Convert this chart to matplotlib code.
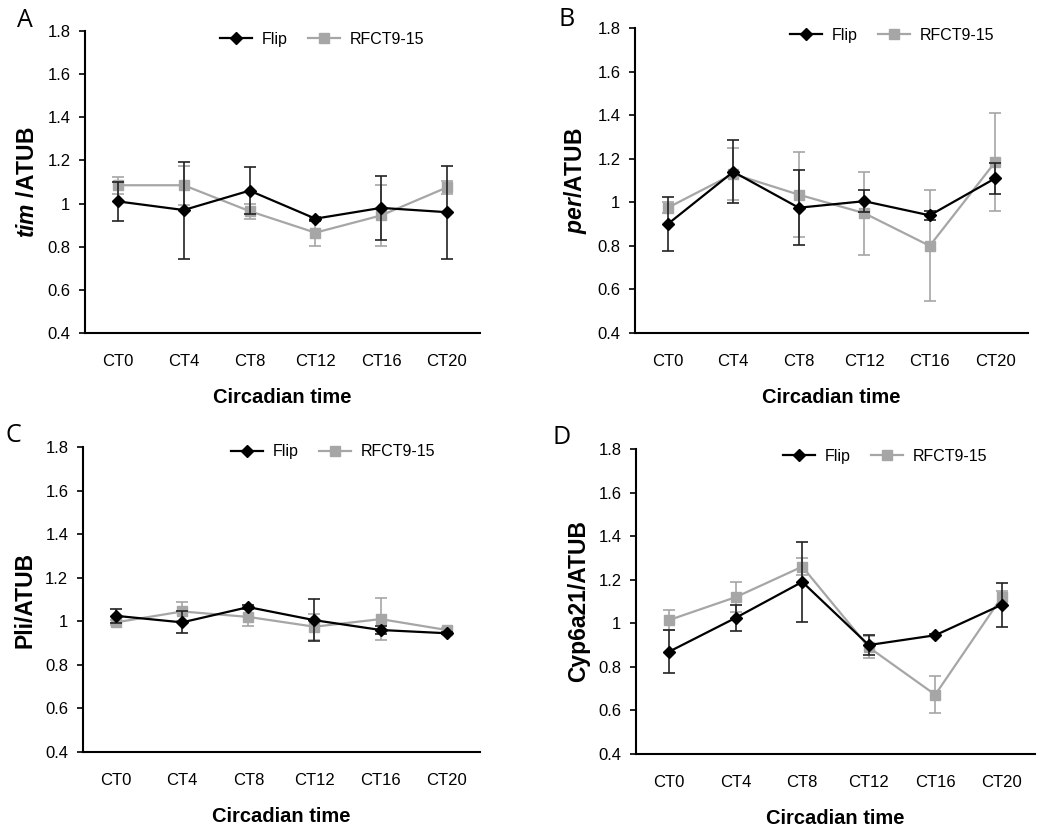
import matplotlib
matplotlib.use("Agg")
import matplotlib.pyplot as plt
from matplotlib.lines import Line2D

plt.rcParams['font.family'] = ['Liberation Sans', 'DejaVu Sans']
plt.rcParams['mathtext.fontset'] = 'custom'
plt.rcParams['mathtext.it'] = 'Liberation Sans:italic:bold'
plt.rcParams['mathtext.rm'] = 'Liberation Sans:bold'

# categories on the x axis
times = ['CT0', 'CT4', 'CT8', 'CT12', 'CT16', 'CT20']

# panel A, tim
tim_flip = [1.01, 0.97, 1.06, 0.93, 0.98, 0.96]
tim_flip_err = [0.09, 0.225, 0.11, 0.01, 0.15, 0.215]
tim_rf = [1.085, 1.085, 0.965, 0.865, 0.945, 1.075]
tim_rf_err = [0.04, 0.09, 0.035, 0.06, 0.14, 0.03]

# panel B, per
per_flip = [0.90, 1.14, 0.975, 1.005, 0.94, 1.11]
per_flip_err = [0.125, 0.145, 0.173, 0.05, 0.02, 0.07]
per_rf = [0.975, 1.13, 1.035, 0.95, 0.80, 1.185]
per_rf_err = [0.025, 0.12, 0.195, 0.19, 0.255, 0.225]

# panel C, Pli
pli_flip = [1.025, 0.995, 1.065, 1.005, 0.96, 0.945]
pli_flip_err = [0.033, 0.05, 0.01, 0.095, 0.02, 0.005]
pli_rf = [0.995, 1.045, 1.02, 0.975, 1.01, 0.96]
pli_rf_err = [0.01, 0.045, 0.04, 0.06, 0.098, 0.01]

# panel D, Cyp6a21
cyp_flip = [0.87, 1.025, 1.19, 0.90, 0.945, 1.085]
cyp_flip_err = [0.10, 0.06, 0.183, 0.045, 0.005, 0.10]
cyp_rf = [1.015, 1.12, 1.26, 0.89, 0.672, 1.12]
cyp_rf_err = [0.045, 0.07, 0.04, 0.05, 0.084, 0.03]

panels = [
    ('A', r'$\mathit{tim}$ /ATUB', tim_flip, tim_flip_err, tim_rf, tim_rf_err,
     [0.081, 0.5998, 0.376, 0.3629], (0.60, 0.973), (0.024, 0.975)),
    ('B', r'$\mathit{per}$/ATUB', per_flip, per_flip_err, per_rf, per_rf_err,
     [0.6048, 0.5998, 0.3742, 0.3665], (0.654, 0.977), (0.540, 0.977)),
    ('C', 'Pli/ATUB', pli_flip, pli_flip_err, pli_rf, pli_rf_err,
     [0.079, 0.0962, 0.378, 0.3665], (0.63, 0.984), (0.013, 0.476)),
    ('D', 'Cyp6a21/ATUB', cyp_flip, cyp_flip_err, cyp_rf, cyp_rf_err,
     [0.6057, 0.0938, 0.38, 0.3665], (0.624, 0.977), (0.535, 0.474)),
]

black = '#000000'
grey = '#a6a6a6'

fig = plt.figure(figsize=(10.5, 8.32), dpi=100)

for letter, ylab, fl, fle, rf, rfe, pos, legpos, letpos in panels:
    ax = fig.add_axes(pos)
    x = range(len(times))
    ax.errorbar(x, rf, yerr=rfe, color=grey, ecolor=grey, marker='s',
                markersize=6.5, lw=1.6, elinewidth=1.2, capsize=4, capthick=1.2,
                zorder=2)
    ax.errorbar(x, fl, yerr=fle, color=black, ecolor='#222222', marker='D',
                markersize=6, lw=1.6, elinewidth=1.2, capsize=4, capthick=1.2,
                zorder=3)

    ax.set_xlim(-0.5, 5.5)
    ax.set_ylim(0.4, 1.8)
    ax.set_yticks([0.4, 0.6, 0.8, 1.0, 1.2, 1.4, 1.6, 1.8])
    ax.set_yticklabels(['0.4', '0.6', '0.8', '1', '1.2', '1.4', '1.6', '1.8'])
    ax.set_xticks(list(x))
    ax.set_xticklabels(times)
    ax.tick_params(axis='x', length=0, pad=15, labelsize=12)
    ax.tick_params(axis='y', length=4.5, width=1.2, pad=6, labelsize=12)
    for s in ['top', 'right']:
        ax.spines[s].set_visible(False)
    for s in ['left', 'bottom']:
        ax.spines[s].set_linewidth(1.5)

    ax.set_xlabel('Circadian time', fontsize=14.5, fontweight='bold', labelpad=14)
    ax.set_ylabel(ylab, fontsize=16.5, fontweight='bold', labelpad=6)

    handles = [Line2D([], [], color=black, marker='D', markersize=6, lw=1.6),
               Line2D([], [], color=grey, marker='s', markersize=6.5, lw=1.6)]
    ax.legend(handles, ['Flip', 'RFCT9-15'], ncol=2, loc='center',
              bbox_to_anchor=legpos, frameon=False, fontsize=11.5,
              handlelength=2.0, handletextpad=0.6, columnspacing=1.3)

    fig.text(letpos[0], letpos[1], letter, fontsize=18, family='Open Sans',
             ha='center', va='center')

fig.savefig('out.png', dpi=100)
